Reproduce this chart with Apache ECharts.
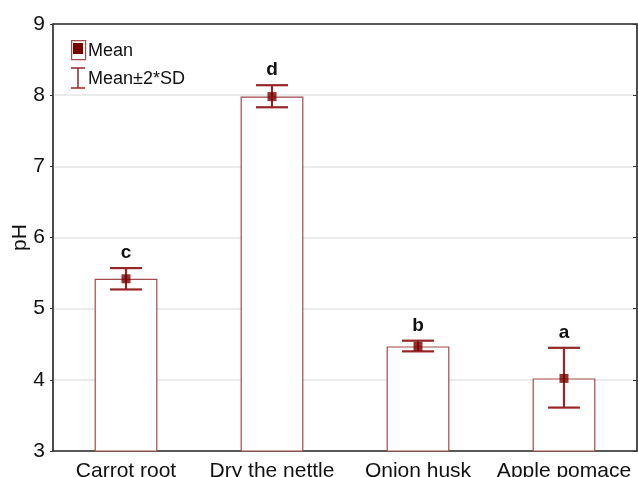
<!DOCTYPE html>
<html><head><meta charset="utf-8">
<script src="https://cdn.jsdelivr.net/npm/echarts@6/dist/echarts.min.js"></script>
<style>html,body{margin:0;padding:0;background:#fff}#c{width:638px;height:477px}</style>
</head><body><div id="c"></div>
<script>
const categories = ['Carrot root', 'Dry the nettle', 'Onion husk', 'Apple pomace'];
const means = [5.42, 7.98, 4.47, 4.02];
const lower = [5.27, 7.83, 4.40, 3.61];
const upper = [5.57, 8.14, 4.55, 4.45];
const letters = ['c', 'd', 'b', 'a'];
const yTicks = [3, 4, 5, 6, 7, 8, 9];

const barColor = '#a44a4a';
const errColor = '#962626';
const markColor = '#7a0000';
const font = 'Liberation Sans, Arial, sans-serif';

const chart = echarts.init(document.getElementById('c'), null, {renderer: 'canvas'});
const errData = categories.map((c, i) => [i, lower[i], upper[i], letters[i]]);

chart.setOption({
  animation: false,
  grid: {left: 53, right: 1, top: 24, bottom: 26, show: true, borderColor: '#333', borderWidth: 1,
    containLabel: false, outerBoundsMode: 'none'},
  xAxis: [{
    type: 'category', data: categories,
    axisLine: {lineStyle: {color: '#333', width: 1.5}},
    axisTick: {alignWithLabel: true, inside: true, length: 4, lineStyle: {color: '#333'}},
    axisLabel: {fontFamily: font, fontSize: 21, color: '#111', margin: 10, interval: 0, hideOverlap: false}
  }, {
    type: 'category', data: categories, position: 'top',
    axisLine: {lineStyle: {color: '#333', width: 1.5}},
    axisTick: {alignWithLabel: true, inside: true, length: 4, lineStyle: {color: '#333'}},
    axisLabel: {show: false}
  }],
  yAxis: [{
    type: 'value', min: yTicks[0], max: yTicks[yTicks.length - 1], interval: 1,
    name: 'pH', nameLocation: 'middle', nameGap: 22, nameRotate: 90, nameMoveOverlap: false,
    nameTextStyle: {fontFamily: font, fontSize: 21, color: '#111'},
    axisLine: {show: true, lineStyle: {color: '#333', width: 1.5}},
    axisTick: {show: true, length: 3, lineStyle: {color: '#333'}},
    axisLabel: {fontFamily: font, fontSize: 21, color: '#111', margin: 8},
    splitLine: {lineStyle: {color: '#e4e4e4', width: 1.5}}
  }, {
    type: 'value', min: yTicks[0], max: yTicks[yTicks.length - 1], interval: 1, position: 'right',
    axisLine: {show: true, lineStyle: {color: '#333', width: 1.5}},
    axisTick: {show: true, inside: true, length: 4, lineStyle: {color: '#333'}},
    axisLabel: {show: false}, splitLine: {show: false}
  }],
  series: [{
    type: 'bar', data: means, barWidth: '43%',
    itemStyle: {color: '#fff', borderColor: barColor, borderWidth: 1.2},
    z: 2
  }, {
    type: 'custom', data: errData, z: 4,
    renderItem: function (params, api) {
      const x = api.coord([api.value(0), api.value(1)])[0];
      const yl = api.coord([api.value(0), api.value(1)])[1];
      const yh = api.coord([api.value(0), api.value(2)])[1];
      const hw = 16;
      const st = {stroke: errColor, lineWidth: 2.2};
      return {type: 'group', children: [
        {type: 'line', shape: {x1: x, y1: yl, x2: x, y2: yh}, style: st},
        {type: 'line', shape: {x1: x - hw, y1: yl, x2: x + hw, y2: yl}, style: st},
        {type: 'line', shape: {x1: x - hw, y1: yh, x2: x + hw, y2: yh}, style: st},
        {type: 'text', x: x, y: yh - 15, style: {text: letters[params.dataIndex], fill: '#111',
          font: 'bold 19px ' + font, align: 'center', verticalAlign: 'middle'}}
      ]};
    }
  }, {
    type: 'scatter', data: means, symbol: 'rect', symbolSize: 9,
    itemStyle: {color: markColor}, z: 5
  }],
  graphic: [
    {type: 'rect', left: 71, top: 40, shape: {width: 14, height: 19}, style: {fill: '#fff', stroke: barColor, lineWidth: 1.2}},
    {type: 'rect', left: 73, top: 43, shape: {width: 10, height: 11}, style: {fill: markColor}},
    {type: 'text', left: 88, top: 42, style: {text: 'Mean', font: '18px ' + font, fill: '#111'}},
    {type: 'line', shape: {x1: 71, y1: 68, x2: 85, y2: 68}, style: {stroke: errColor, lineWidth: 1.5}},
    {type: 'line', shape: {x1: 78, y1: 68, x2: 78, y2: 88}, style: {stroke: errColor, lineWidth: 1.5}},
    {type: 'line', shape: {x1: 71, y1: 88, x2: 85, y2: 88}, style: {stroke: errColor, lineWidth: 1.5}},
    {type: 'text', left: 88, top: 70, style: {text: 'Mean±2*SD', font: '18px ' + font, fill: '#111'}}
  ]
});
</script></body></html>
